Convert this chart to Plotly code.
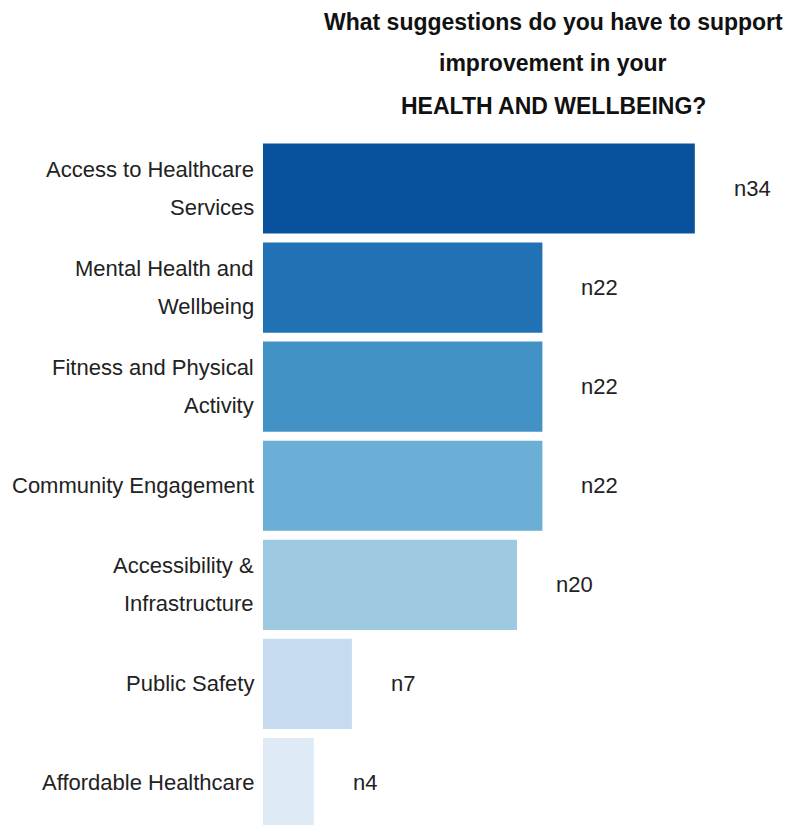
import plotly.graph_objects as go

# data
categories = [
    "Access to Healthcare<br>Services",
    "Mental Health and<br>Wellbeing",
    "Fitness and Physical<br>Activity",
    "Community Engagement",
    "Accessibility &<br>Infrastructure",
    "Public Safety",
    "Affordable Healthcare",
]
counts = [34, 22, 22, 22, 20, 7, 4]
value_labels = ["n34", "n22", "n22", "n22", "n20", "n7", "n4"]
bar_colors = ["#08519c", "#2171b5", "#4292c6", "#6baed6", "#9ecae1", "#c6dbef", "#deebf7"]
title_lines = [
    "What suggestions do you have to support",
    "improvement in your",
    "HEALTH AND WELLBEING?",
]

FONT = "Liberation Sans, Arial, Helvetica, sans-serif"
PAGE_OFF = 8  # default body margin of the html page
W, H = 795 - PAGE_OFF, 825 - PAGE_OFF
LEFT, TOP = 263 - PAGE_OFF, 139 - PAGE_OFF
PX_PER_UNIT = 12.7

fig = go.Figure(go.Bar(
    x=counts,
    y=list(range(len(categories))),
    orientation="h",
    marker=dict(color=bar_colors, line=dict(width=0)),
    hoverinfo="x",
))

annotations = []
# category labels, one annotation per line so the wide line spacing matches
for i, label in enumerate(categories):
    lines = label.split("<br>")
    n = len(lines)
    for j, line in enumerate(lines):
        annotations.append(dict(
            x=0, y=i, xref="x", yref="y", text=line, showarrow=False,
            xanchor="right", yanchor="middle", xshift=-7,
            yshift=(n - 1) * 19 - j * 38,
            font=dict(family=FONT, size=22, color="#222222"),
        ))

# value labels
for i, (v, t) in enumerate(zip(counts, value_labels)):
    annotations.append(dict(
        x=v, y=i, xref="x", yref="y", text=t, showarrow=False,
        xanchor="left", yanchor="middle", xshift=37,
        font=dict(family=FONT, size=22, color="#222222"),
    ))

# title lines (pixel centres in the reference)
title_x = (553 - PAGE_OFF - LEFT) / (W - LEFT)
for line, ypix in zip(title_lines, [22, 63, 106]):
    annotations.append(dict(
        x=title_x, y=1, xref="paper", yref="paper", text="<b>%s</b>" % line,
        showarrow=False, xanchor="center", yanchor="middle",
        yshift=TOP - (ypix - PAGE_OFF),
        font=dict(family=FONT, size=23, color="#111111"),
    ))

fig.update_layout(
    width=W, height=H,
    margin=dict(l=LEFT, r=0, t=TOP, b=0),
    paper_bgcolor="white", plot_bgcolor="white",
    bargap=0.09,
    showlegend=False,
    annotations=annotations,
    xaxis=dict(range=[0, (W - LEFT) / PX_PER_UNIT], visible=False, fixedrange=True),
    yaxis=dict(range=[6.424, -0.5], visible=False, fixedrange=True),
)

fig.write_html("out.html", config={"displayModeBar": False})
